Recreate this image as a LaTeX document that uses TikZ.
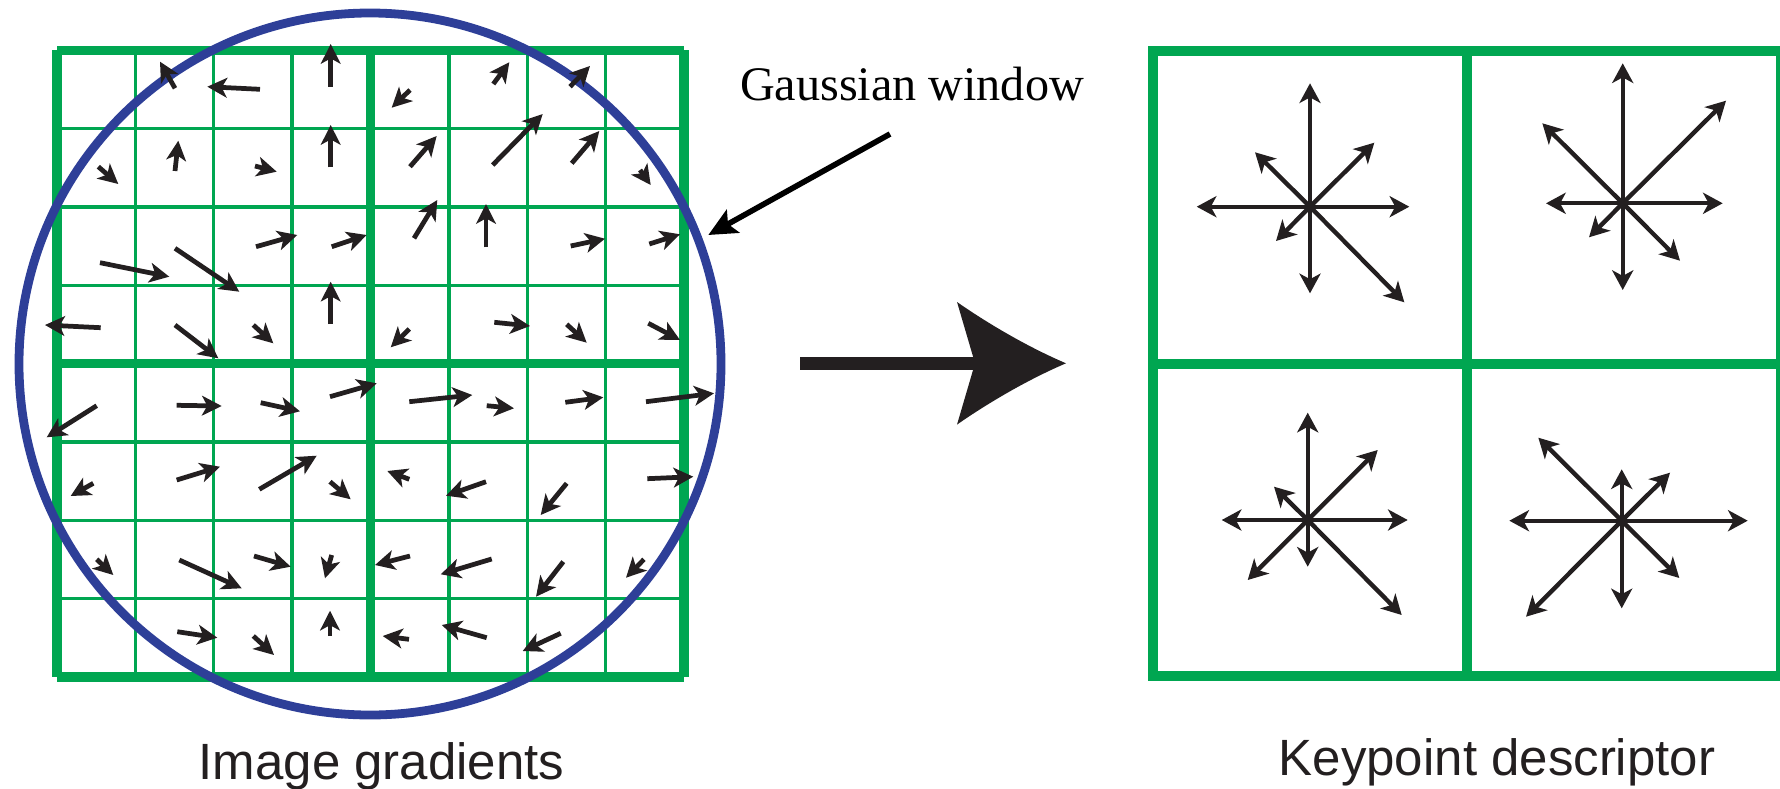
\documentclass[tikz,border=0pt]{standalone}
\usepackage{fontspec}
\setmainfont{Liberation Sans}
\newfontfamily\serifface{Liberation Serif}
\usetikzlibrary{arrows.meta}
\definecolor{siftgreen}{HTML}{00A651}
\definecolor{siftblue}{HTML}{2E3F98}
\definecolor{siftink}{HTML}{231F20}
\tikzset{
  cellthin/.style={draw=siftgreen, line width=0.95pt},
  cellthick/.style={draw=siftgreen, line width=2.6pt},
  window/.style={draw=siftblue, line width=2.5pt},
  gradarrow/.style={-{Stealth[length=5.6pt,width=5.6pt,inset=1.5pt]}, line width=1.35pt, draw=siftink},
  binarrow/.style={-{Stealth[length=5.6pt,width=6pt,inset=1.6pt]}, line width=1.25pt, draw=siftink},
  pointer/.style={-{Stealth[length=8pt,width=7.4pt,inset=1.6pt]}, line width=1.6pt, draw=black},
  caption/.style={font=\fontsize{14.5pt}{17pt}\selectfont, text=siftink, inner sep=0pt, anchor=base},
  serifnote/.style={font=\serifface\fontsize{13.7pt}{16pt}\selectfont, text=black, inner sep=0pt, anchor=base}
}

\begin{document}
\begin{tikzpicture}[x=0.01cm, y=-0.01cm]
  \useasboundingbox (0,0) rectangle (1780,788);

  % 16x16 sample grid, 4x4 subregions
  \foreach \i in {1,2,3,5,6,7} {
    \draw[cellthin] ({57+78.375*\i},50.5) -- ({57+78.375*\i},677);
    \draw[cellthin] (57,{50.5+78.31*\i}) -- (684,{50.5+78.31*\i});
  }
  \foreach \i in {0,4,8} {
    \draw[cellthick] ({57+78.375*\i},50.5) -- ({57+78.375*\i},677);
    \draw[cellthick] (57,{50.5+78.31*\i}) -- (684,{50.5+78.31*\i});
  }

  \coordinate (winc) at (370,364);
  \draw[window] (winc) circle[radius=351];

  \foreach \sx/\sy/\ex/\ey in {
    175/88.3/160/61.7, 260/89.3/207.3/86.7, 330.7/86.7/330.7/44,
    410/90/391.7/107.7, 493.3/84/509.3/62.3, 570/86.7/590/66,
    98.3/166.7/118.3/184, 175/171/178.3/140.7, 255/166/276.7/171.7,
    330.7/167.3/330.7/125, 410/166.7/436.7/136, 492.7/165/542.7/114,
    571.7/163.3/599.3/131, 640/170/650.7/185,
    100/262.7/169.3/276.7, 175/248.3/239.3/291.7, 256/246.7/297.3/235,
    331.7/246.7/366.7/235, 414/238.3/437.3/200, 486/247.3/486/204,
    570.7/246/605/238.7, 649.3/244/680/234.3,
    100.7/327.7/45/325, 175/325/218.3/358.3, 253.3/325/273.3/343.3,
    330.7/324/330.7/281.7, 409.3/329/390.7/347.3, 494.3/322.3/530/326,
    566.7/324.3/586.7/342.7, 648.3/323.3/680/340,
    96.7/405.7/46.7/437.3, 176.7/405.3/221.7/406, 260.7/402.7/300/411.3,
    330/396.7/376.7/383.3, 409.3/401.7/472.3/395, 486.7/405.7/514/408.3,
    565.3/402.3/603.3/397.3, 646/401.7/714/393.3,
    93.3/483.3/70.7/496, 176.7/480/220/466.7, 259.3/489.3/316.7/455.7,
    330/481.7/350.7/499.3, 409.3/479.3/387.3/471, 486/481.7/446/495.7,
    566.7/483.3/540.7/515, 647.3/478.7/693.3/476.7,
    96.7/559.3/113.3/575, 179.3/560/241.7/588.3, 254/556/290.7/566.7,
    331.7/555/325/578.3, 410/556/375/565, 491.7/559/440.7/574.3,
    563.3/561.7/536/596.7, 644/559.3/626/577.7,
    177.3/631.7/217.3/637.7, 253.3/636/274/655, 330/636/330/610.7,
    409/639.3/382.7/636, 486.7/637.7/441.7/625, 560.7/633.3/522.7/651}
    \draw[gradarrow] (\sx,\sy) -- (\ex,\ey);

  % descriptor: 2x2 histograms
  \draw[cellthick] (1153,51) rectangle (1781,676);
  \draw[cellthick] (1467,51) -- (1467,676);
  \draw[cellthick] (1153,364) -- (1781,364);

  \coordinate (histTL) at (1310,206.7);
  \coordinate (histTR) at (1622.7,203.3);
  \coordinate (histBL) at (1307.7,520);
  \coordinate (histBR) at (1621.7,520.7);
  \foreach \tx/\ty in {1310/83.3, 1409.3/206.7, 1196.7/206.7, 1310/293.3,
      1374.3/142.7, 1255/152.3, 1276/241, 1404.3/302.3}
    \draw[binarrow] (histTL) -- (\tx,\ty);
  \foreach \tx/\ty in {1622.7/63.3, 1722.7/203.3, 1546/203.3, 1622.7/290,
      1726/100.7, 1542.3/123.3, 1589/237.3, 1680/260.7}
    \draw[binarrow] (histTR) -- (\tx,\ty);
  \foreach \tx/\ty in {1307.7/412.7, 1407.7/520, 1221.7/520, 1307.7/566.7,
      1377.7/450, 1274/486.7, 1247.7/580, 1401.7/615}
    \draw[binarrow] (histBL) -- (\tx,\ty);
  \foreach \tx/\ty in {1621.7/469.3, 1747.7/520.7, 1509.3/520.7, 1621.7/608.3,
      1670/472.7, 1538.3/437.7, 1526/616.7, 1679.3/578}
    \draw[binarrow] (histBR) -- (\tx,\ty);

  % big arrow between the two
  \coordinate (flowtail) at (800,363.3);
  \coordinate (flownotch) at (975,363.3);
  \coordinate (flowtip) at (1066,363.3);
  \draw[siftink, line width=3.8pt] (flowtail) -- (flownotch);
  \fill[siftink] (flowtip) .. controls (1030,348) and (990,325) .. (957,302)
    -- (flownotch) -- (957,424.6) .. controls (990,401.6) and (1030,378.6) .. (flowtip) -- cycle;

  \node[serifnote] (gausslabel) at (912,101) {Gaussian window};
  \coordinate (gausstail) at (890,134);
  \coordinate (windowedge) at (708.3,235);
  \draw[pointer] (gausstail) -- (windowedge);

  \node[caption] (gradlabel) at (381.5,779.3) {Image gradients};
  \node[caption] (desclabel) at (1497,775) {Keypoint descriptor};
\end{tikzpicture}
\end{document}
